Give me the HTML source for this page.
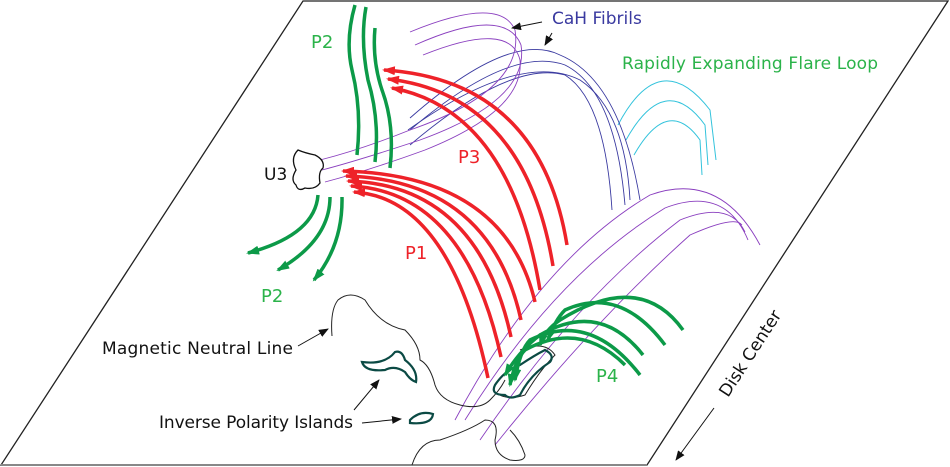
<!DOCTYPE html>
<html><head><meta charset="utf-8"><style>
html,body{margin:0;padding:0;background:#fff;}
svg{display:block;}
text{font-family:"DejaVu Sans","Liberation Sans",sans-serif;}
</style></head><body>
<svg width="950" height="467" viewBox="0 0 950 467" xmlns="http://www.w3.org/2000/svg">
<defs>
<marker id="ar" markerWidth="13" markerHeight="9" refX="11" refY="4.5" orient="auto" markerUnits="userSpaceOnUse"><path d="M0,0 L13,4.5 L0,9 Z" fill="#ee2229"/></marker>
<marker id="ag" markerWidth="13" markerHeight="9" refX="11" refY="4.5" orient="auto" markerUnits="userSpaceOnUse"><path d="M0,0 L13,4.5 L0,9 Z" fill="#0c9a48"/></marker>
<marker id="ak" markerWidth="10" markerHeight="8" refX="9" refY="4" orient="auto" markerUnits="userSpaceOnUse"><path d="M0,0 L10,4 L0,8 Z" fill="#111"/></marker>
</defs>
<path d="M303,1 L948,1 L647,465 L1,465 Z" fill="none" stroke="#222" stroke-width="1.3"/>
<path d="M1,465 L647,465" stroke="#888" stroke-width="2"/>

<g fill="none" stroke="#33c3dc" stroke-width="1">
<path d="M618,125 Q660,45 710,110 L716,160"/>
<path d="M626,140 Q665,70 705,125 L708,165"/>
<path d="M634,155 Q668,95 700,140 L702,175"/>
</g>

<g fill="none" stroke="#3a3aa0" stroke-width="0.9">
<path d="M410,118 Q510,30 560,55 Q620,80 640,200"/>
<path d="M410,130 Q510,45 565,65 Q615,90 625,205"/>
<path d="M410,145 Q510,60 565,75 Q605,100 612,210"/>
<path d="M408,130 Q520,50 580,80 Q625,110 630,200"/>
</g>

<g fill="none" stroke="#8a3fbf" stroke-width="0.9">
<path d="M410,32 Q500,-5 515,30 Q525,90 410,130 Q360,150 320,160"/>
<path d="M415,45 Q505,5 521,45 Q530,100 420,140 Q360,160 322,170"/>
<path d="M423,55 Q510,20 520,60 Q525,110 425,150 Q370,170 325,182"/>
</g>

<g fill="none" stroke="#8a3fbf" stroke-width="0.9">
<path d="M455,420 Q540,260 650,195 Q720,170 760,245"/>
<path d="M465,420 Q555,275 665,208 Q725,185 748,240"/>
<path d="M480,440 Q575,300 680,220 Q730,200 745,232"/>
<path d="M495,445 Q595,320 690,235 Q735,215 742,225"/>
</g>

<g fill="none" stroke="#222" stroke-width="1">
<path d="M332,336 Q330,310 338,300 Q350,290 365,300 Q380,325 405,330 Q420,345 420,360 Q430,365 435,385 Q440,400 460,405 Q480,410 490,400 Q500,390 505,380"/>
<path d="M412,465 Q420,440 440,440 Q470,430 485,420 Q500,420 495,440 Q495,455 510,460 Q525,462 525,455 Q520,440 510,430"/>
<path d="M520,350 Q545,340 555,355 Q540,370 525,395 Q510,400 500,395"/>
</g>

<g fill="none" stroke="#0b4a44" stroke-width="2.2">
<path d="M362,362 Q385,365 395,352 Q402,350 405,360 Q418,370 416,382 Q410,380 405,372 Q395,365 385,370 Q365,372 362,362 Z"/>
<path d="M410,420 Q420,410 433,414 Q432,425 410,423 Z"/>
<path d="M495,385 Q505,370 520,365 Q535,355 545,350 Q555,355 550,362 Q530,375 520,395 Q510,400 505,395 Q490,395 495,385 Z"/>
</g>

<path d="M298,150 Q305,153 315,155 Q325,160 323,168 Q318,172 320,183 Q315,190 305,188 Q298,192 296,185 Q290,180 296,170 Q290,158 298,150 Z" fill="#fff" stroke="#111" stroke-width="1.3"/>
<text x="264" y="180" font-size="17" fill="#111">U3</text>

<g fill="none" stroke="#ee2229" stroke-width="3.5" marker-end="url(#ar)">
<path d="M567,245 Q540,80 384,70"/>
<path d="M553,266 Q525,95 388,79"/>
<path d="M540,290 Q510,110 392,88"/>
</g>
<g fill="none" stroke="#ee2229" stroke-width="3.5" marker-end="url(#ar)">
<path d="M535,302 Q505,175 343,171"/>
<path d="M521,320 Q490,180 346,176"/>
<path d="M511,337 Q478,185 348,181"/>
<path d="M501,357 Q465,192 351,186"/>
<path d="M488,378 Q450,198 354,192"/>
</g>

<g fill="none" stroke="#0c9a48" stroke-width="3.5">
<path d="M355,5 Q345,40 352,70 Q362,110 357,155"/>
<path d="M366,7 Q360,40 368,80 Q380,120 375,162"/>
<path d="M375,28 Q372,60 382,90 Q395,125 390,168"/>
</g>
<g fill="none" stroke="#0c9a48" stroke-width="3.5" marker-end="url(#ag)">
<path d="M318,195 Q315,235 248,253"/>
<path d="M330,197 Q330,240 278,270"/>
<path d="M342,197 Q343,245 314,280"/>
</g>

<g fill="none" stroke="#0c9a48" stroke-width="3.5" marker-end="url(#ag)">
<path d="M683,330 Q640,270 560,320 Q545,330 540,345"/>
<path d="M665,345 Q620,285 565,310 Q555,320 548,340"/>
<path d="M643,355 Q600,300 540,335 Q520,350 505,375"/>
<path d="M640,375 Q590,310 530,340 Q520,350 515,380"/>
<path d="M625,365 Q580,320 525,350 Q515,360 510,385"/>
</g>

<text x="311" y="48" font-size="18" fill="#2bb34a">P2</text>
<text x="261" y="302" font-size="18" fill="#2bb34a">P2</text>
<text x="458" y="163" font-size="18" fill="#ee2229">P3</text>
<text x="405" y="259" font-size="18" fill="#ee2229">P1</text>
<text x="596" y="382" font-size="18" fill="#2bb34a">P4</text>
<text x="552" y="24" font-size="17" fill="#3a3aa0">CaH Fibrils</text>
<text x="622" y="69" font-size="17" fill="#2bb34a" textLength="256">Rapidly Expanding Flare Loop</text>
<text x="102" y="354" font-size="17" fill="#111" textLength="191">Magnetic Neutral Line</text>
<text x="159" y="428" font-size="17" fill="#111" textLength="194">Inverse Polarity Islands</text>
<text x="0" y="0" font-size="17" fill="#111" transform="translate(728,398) rotate(-57)">Disk Center</text>

<g stroke="#111" stroke-width="1" fill="none" marker-end="url(#ak)">
<path d="M542,22 L512,28"/>
<path d="M552,33 L545,45"/>
<path d="M298,346 L328,329"/>
<path d="M354,410 L379,380"/>
<path d="M362,423 L401,419"/>
<path d="M714,408 L676,460"/>
</g>
</svg>
</body></html>
